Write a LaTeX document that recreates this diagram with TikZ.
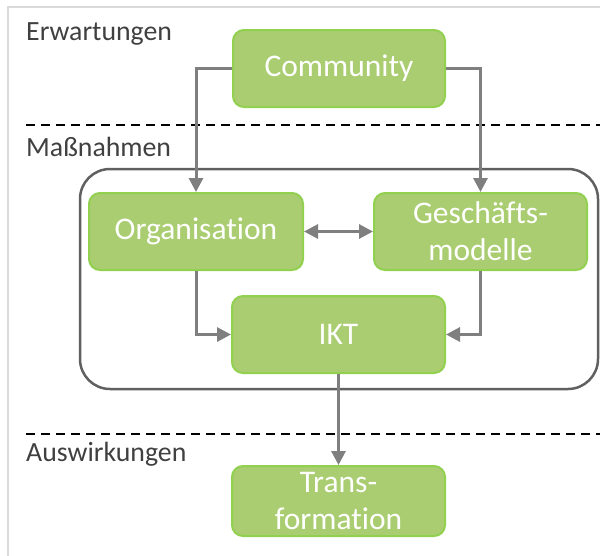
\documentclass[tikz,border=0pt]{standalone}
\usepackage{fontspec}
\setmainfont[Ligatures={NoCommon}]{Carlito}
\usetikzlibrary{arrows.meta}
\definecolor{boxfill}{RGB}{169,205,112}
\definecolor{boxline}{RGB}{146,208,80}
\definecolor{arrowgray}{RGB}{127,127,127}
\definecolor{framegray}{RGB}{217,217,217}
\definecolor{labelgray}{RGB}{64,64,64}
\definecolor{contgray}{RGB}{96,96,96}
\tikzset{
  greenbox/.style={draw=boxline, fill=boxfill, line width=2pt, rounded corners=11pt,
    text=white, font=\fontsize{31.5}{37}\selectfont, align=center, inner sep=0pt},
  sectlabel/.style={anchor=west, text=labelgray, font=\fontsize{27.8}{33}\selectfont, inner sep=0pt},
  conn/.style={draw=arrowgray, line width=3pt, -{Triangle[length=14pt,width=14pt]}},
  dconn/.style={draw=arrowgray, line width=3pt, {Triangle[length=14pt,width=14pt]}-{Triangle[length=14pt,width=14pt]}},
  sepline/.style={draw=black, line width=1.2pt, dash pattern=on 9pt off 6pt},
}
\begin{document}
\begin{tikzpicture}[x=1pt,y=-1pt]
\useasboundingbox (0,0) rectangle (600,555);
% frame
\draw[framegray, line width=2pt] (8,560) -- (8,7) -- (605,7);
% separators
\draw[sepline] (26,125) -- (600,125);
\draw[sepline] (26,434) -- (600,434);
% section labels
\node[sectlabel] (erw) at (26,34) {Erwartungen};
\node[sectlabel] (mass) at (26,147) {Maßnahmen};
\node[sectlabel] (ausw) at (26,454) {Auswirkungen};
% container
\draw[contgray, line width=2.5pt, rounded corners=30pt] (80,169) rectangle (598,389);
% boxes
\node[greenbox, minimum width=212pt, minimum height=77pt] (comm) at (339,68.5) {Community};
\node[greenbox, minimum width=214pt, minimum height=77pt] (org) at (196,231.5) {Organisation};
\node[greenbox, minimum width=213pt, minimum height=77pt] (gm) at (480.5,231.5) {Geschäfts-\\modelle};
\node[greenbox, minimum width=213pt, minimum height=77pt] (ikt) at (338.5,334.5) {IKT};
\node[greenbox, minimum width=213pt, minimum height=70pt] (trans) at (338.5,501) {Trans-\\formation};
% connectors
\draw[conn] (comm.west) -| (org.north);
\draw[conn] (comm.east) -| (gm.north);
\draw[dconn] (org.east) -- (gm.west);
\draw[conn] (org.south) |- (ikt.west);
\draw[conn] (gm.south) |- (ikt.east);
\draw[conn] (ikt.south) -- (trans.north);
\end{tikzpicture}
\end{document}
